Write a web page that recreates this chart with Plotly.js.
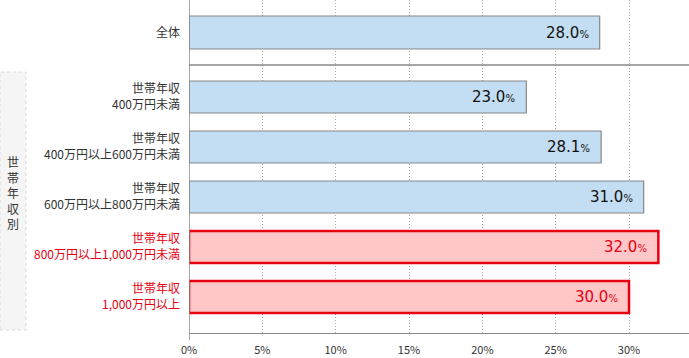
<!DOCTYPE html>
<html>
<head>
<meta charset="utf-8">
<script src="https://cdn.plot.ly/plotly-3.0.1.min.js"></script>
<style>html,body{margin:0;padding:0;background:#fff;}#chart{width:689px;height:358px;}</style>
</head>
<body>
<div id="chart"></div>
<script>
// Data
const totalLabel = ['全体'];
const totalValue = [28.0];
const incomeLabels = [
  '世帯年収<br>400万円未満',
  '世帯年収<br>400万円以上600万円未満',
  '世帯年収<br>600万円以上800万円未満',
  '世帯年収<br>800万円以上1,000万円未満',
  '世帯年収<br>1,000万円以上'
];
const incomeValues = [23.0, 28.1, 31.0, 32.0, 30.0];
const highlighted = [false, false, false, true, true];
const groupTitle = '世帯年収別';
const xTickVals = [0, 5, 10, 15, 20, 25, 30];
const xTickText = ['0%', '5%', '10%', '15%', '20%', '25%', '30%'];

const RED = '#e60012';
const BLUE_FILL = '#c3ddf2';
const RED_FILL = '#ffc7c7';
const FONT = '"Noto Sans CJK JP", "Noto Sans", sans-serif';
const NUMFONT = '"DejaVu Sans", sans-serif';

const incomeIdx = incomeLabels.map((_, i) => i);

const traces = [
  {
    type: 'bar', orientation: 'h',
    x: totalValue, y: [0],
    xaxis: 'x', yaxis: 'y',
    width: 0.66,
    marker: {color: BLUE_FILL, line: {color: '#888', width: 1.2}},
    hoverinfo: 'skip'
  },
  {
    type: 'bar', orientation: 'h',
    x: incomeValues, y: incomeIdx,
    xaxis: 'x', yaxis: 'y2',
    width: 0.64,
    marker: {
      color: highlighted.map(h => h ? RED_FILL : BLUE_FILL),
      line: {color: highlighted.map(h => h ? RED : '#888'), width: highlighted.map(h => h ? 2.5 : 1.2)}
    },
    hoverinfo: 'skip'
  }
];

function valText(v, color) {
  return '<span style="color:' + color + '">' + v.toFixed(1) + '<span style="font-size:10px">%</span></span>';
}

const annotations = [];
totalValue.forEach((v, i) => {
  annotations.push({x: v, y: i, xref: 'x', yref: 'y', xanchor: 'right', yanchor: 'middle',
    xshift: -9, showarrow: false, text: valText(v, '#111'), font: {size: 15, family: NUMFONT, color: '#111'}});
});
incomeValues.forEach((v, i) => {
  const c = highlighted[i] ? RED : '#111';
  annotations.push({x: v, y: i, xref: 'x', yref: 'y2', xanchor: 'right', yanchor: 'middle',
    xshift: -9, showarrow: false, text: valText(v, c), font: {size: 15, family: NUMFONT, color: c}});
});
annotations.push({
  x: (13 - 189) / 500, y: (333 - 192) / 333, xref: 'paper', yref: 'paper',
  xanchor: 'center', yanchor: 'middle', showarrow: false,
  text: groupTitle.split('').join('<br>'),
  font: {size: 12, family: FONT, color: '#333'}
});

const topFrac = (333 - 65) / 333;

const layout = {
  width: 689, height: 358,
  margin: {l: 189, r: 0, t: 0, b: 25},
  paper_bgcolor: '#fff', plot_bgcolor: '#fff',
  showlegend: false,
  font: {family: FONT, color: '#333', size: 12},
  xaxis: {
    range: [0, 34.09], anchor: 'y2',
    tickvals: xTickVals, ticktext: xTickText,
    showgrid: true, gridcolor: '#aaa', griddash: '1px,2px', gridwidth: 1,
    zeroline: false, showline: true, linecolor: '#888', linewidth: 1.2,
    ticks: '', ticklabelstandoff: 7,
    tickfont: {size: 11, family: FONT, color: '#333'},
    fixedrange: true
  },
  yaxis: {
    domain: [topFrac, 1], range: [0.65, -0.65],
    tickvals: [0], ticktext: totalLabel,
    showgrid: false, zeroline: false, showline: false,
    ticks: '', ticklabelstandoff: 8,
    tickfont: {size: 12, family: FONT, color: '#333'},
    fixedrange: true
  },
  yaxis2: {
    domain: [0, topFrac], range: [4.72, -0.64],
    tickvals: incomeIdx,
    ticktext: incomeLabels.map((t, i) => highlighted[i] ? '<span style="color:' + RED + '">' + t + '</span>' : t),
    showgrid: false, zeroline: false, showline: false,
    ticks: '', ticklabelstandoff: 8,
    tickfont: {size: 12, family: FONT, color: '#333'},
    fixedrange: true
  },
  shapes: [
    {type: 'rect', xref: 'paper', yref: 'paper',
     x0: -189 / 500, x1: (26 - 189) / 500, y0: (333 - 330) / 333, y1: (333 - 72) / 333,
     fillcolor: '#f5f5f5', line: {color: '#d8d8d8', width: 1, dash: 'dot'}, layer: 'below'},
    {type: 'line', xref: 'paper', yref: 'paper', x0: 0, x1: 1, y0: topFrac, y1: topFrac,
     line: {color: '#888', width: 1.5}},
    {type: 'line', xref: 'x', yref: 'paper', x0: 0, x1: 0, y0: -7 / 333, y1: 1,
     line: {color: '#888', width: 1.5}}
  ],
  annotations: annotations
};

Plotly.newPlot('chart', traces, layout, {displayModeBar: false, staticPlot: true});
</script>
</body>
</html>
